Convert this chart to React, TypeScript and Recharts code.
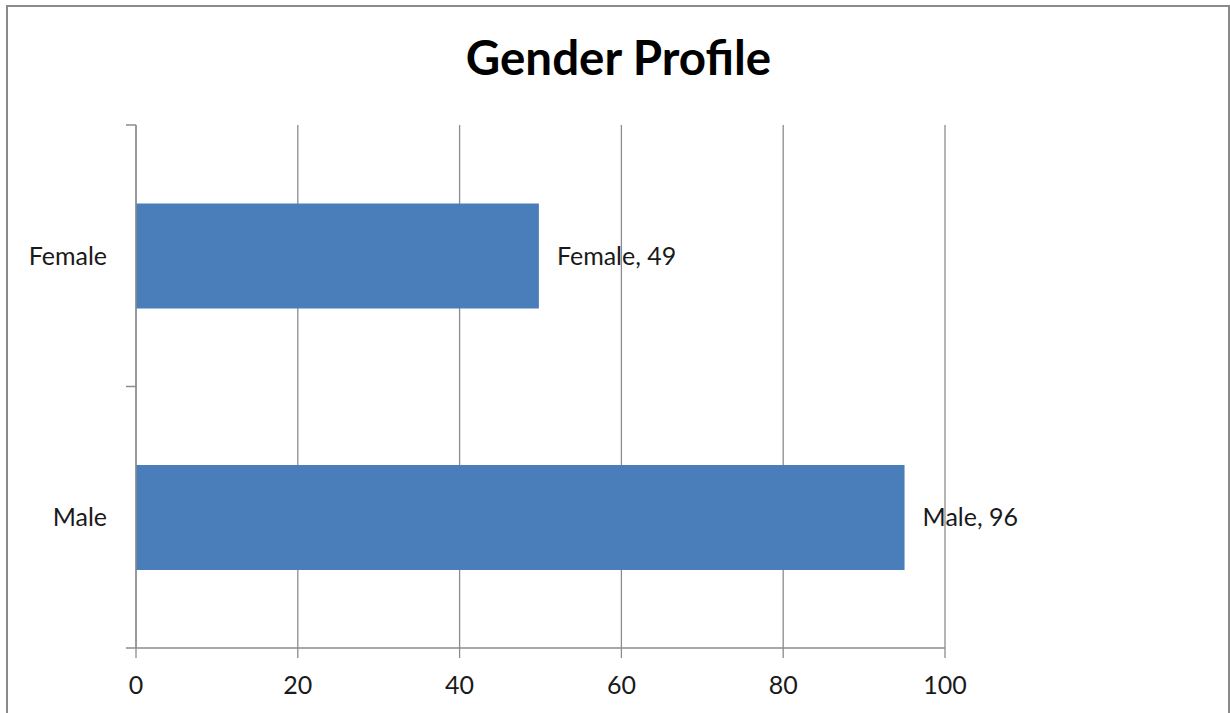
import React from "react";
import { BarChart, Bar, XAxis, YAxis, CartesianGrid, LabelList } from "recharts";

const categories = ["Female", "Male"];
const barValues = [49.8, 95];
const labelValues = [49, 96];
const xTicks = [0, 20, 40, 60, 80, 100];
const bandTicks = [0, 1, 2];

const data = categories.map((c, i) => ({ name: c, value: barValues[i], label: labelValues[i] }));

const FONT = "Lato, 'Open Sans', sans-serif";
const AXIS = "#8c8c8c";
const TICK_MARGIN = 19;

const renderLabel = (props: any) => {
  const { x, y, width, height, index } = props;
  const d = data[index];
  return (
    <text
      x={x + width + 18}
      y={y + height / 2}
      dy="0.355em"
      fontSize={25}
      fontFamily={FONT}
      fill="#1a1a1a"
      textAnchor="start"
    >
      {`${d.name}, ${d.label}`}
    </text>
  );
};

const bandTick = (p: any) => (
  <line x1={p.x} x2={p.x + 10} y1={p.y} y2={p.y} stroke={AXIS} strokeWidth={1.5} />
);

const catTick = (p: any) => {
  const { x, y, payload, index } = p;
  const off = payload && typeof payload.offset === "number" ? payload.offset : 0;
  return (
    <g>
      <text x={x} y={y} dy="0.355em" textAnchor="end" fontSize={25} fill="#1a1a1a" fontFamily={FONT}>
        {payload.value}
      </text>
      {index > 0 && off > 0 ? (
        <line
          x1={x + TICK_MARGIN}
          x2={x + TICK_MARGIN + 10}
          y1={y - off}
          y2={y - off}
          stroke={AXIS}
          strokeWidth={1.5}
        />
      ) : null}
    </g>
  );
};

export default function App() {
  return (
    <div style={{ position: "absolute", left: 0, top: 0, width: 1230, height: 713, background: "#fff", overflow: "hidden" }}>
      <div
        style={{
          position: "absolute",
          left: 6,
          top: 5,
          width: 1224,
          height: 720,
          border: "2px solid #8a8a8a",
          boxSizing: "border-box",
        }}
      />
      <div style={{ position: "absolute", left: 0, top: 0 }}>
        <BarChart
          width={1230}
          height={713}
          data={data}
          layout="vertical"
          margin={{ top: 125, right: 285, bottom: 0, left: 0 }}
          barCategoryGap="30%"
          style={{ fontFamily: FONT }}
        >
          <text x={618.5} y={75} textAnchor="middle" fontSize={47.5} fontWeight="bold" fontFamily={FONT} fill="#000">
            Gender Profile
          </text>
          <CartesianGrid horizontal={false} yAxisId="cat" stroke={AXIS} strokeWidth={1.3} />
          <XAxis
            type="number"
            domain={[0, 100]}
            ticks={xTicks}
            height={65}
            tickSize={10}
            tickMargin={18}
            axisLine={{ stroke: AXIS, strokeWidth: 1.3 }}
            tickLine={{ stroke: AXIS, strokeWidth: 1.3 }}
            tick={{ fontSize: 25, fill: "#1a1a1a", fontFamily: FONT }}
            interval={0}
          />
          <YAxis
            yAxisId={0}
            type="number"
            domain={[0, 2]}
            allowDataOverflow
            ticks={bandTicks}
            width={10}
            tickSize={10}
            tickMargin={0}
            axisLine={{ stroke: AXIS, strokeWidth: 1.3 }}
            tickLine={false}
            tick={bandTick}
            interval={0}
          />
          <YAxis
            yAxisId="cat"
            type="category"
            dataKey="name"
            width={126}
            tickSize={0}
            tickMargin={TICK_MARGIN}
            axisLine={false}
            tickLine={false}
            tick={catTick}
            interval={0}
          />
          <Bar dataKey="value" yAxisId="cat" fill="#4a7ebb" isAnimationActive={false}>
            <LabelList dataKey="value" content={renderLabel} />
          </Bar>
        </BarChart>
      </div>
    </div>
  );
}
